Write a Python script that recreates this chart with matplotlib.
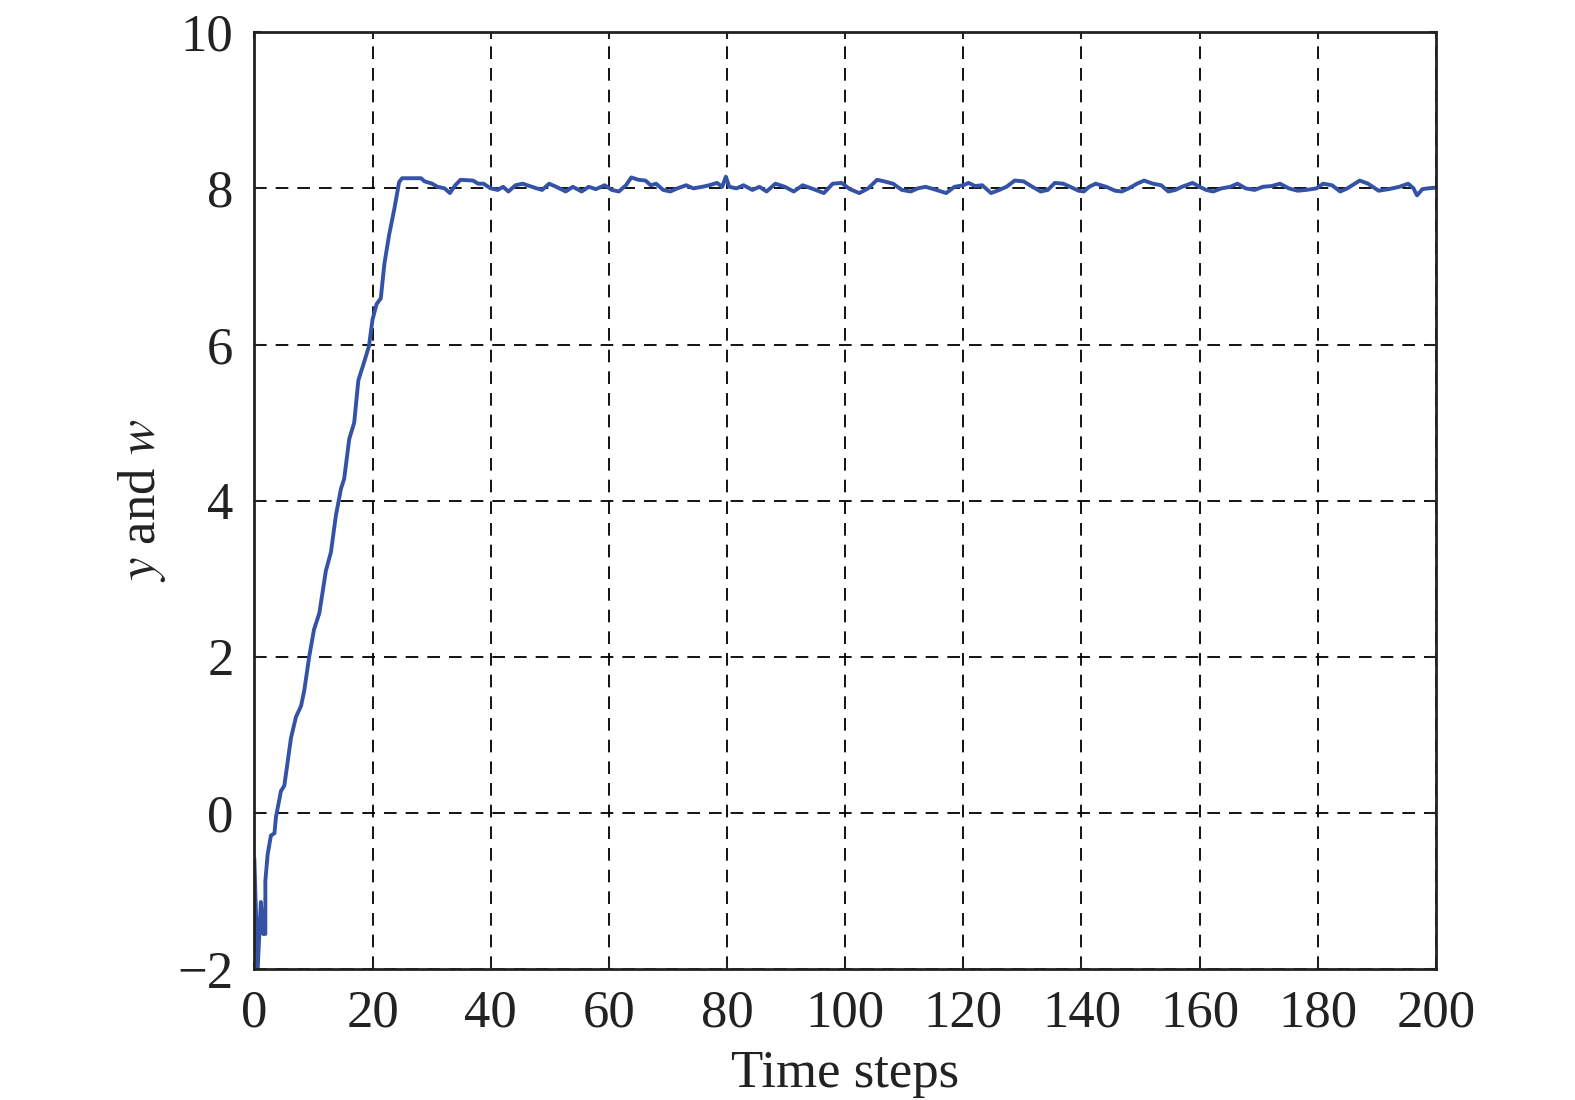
import matplotlib
matplotlib.use('Agg')
import matplotlib.pyplot as plt

# values (time step, y)
t = [0, 0.56, 1.1, 1.5, 1.86, 1.86, 2.25, 2.8, 3.4, 3.66, 4.5, 5.07, 6.2, 7.04, 7.9,
     8.45, 9.3, 10.1, 11.0, 12.1, 12.96, 13.8, 14.65, 15.2, 16.06, 16.9, 17.6, 18.6,
     19.4, 20.0, 20.7, 21.4, 22.0, 22.8, 23.7, 24.5, 25.0, 28.2, 28.8, 30.1, 31.0,
     32.2, 33.1, 34.0, 34.9, 37.0, 37.9, 38.8, 40.0, 41.2, 42.1, 43.0, 44.2, 45.4,
     46.6, 47.8, 48.7, 49.9, 51.1, 52.7, 53.9, 55.4, 56.6, 57.8, 59.3, 60.5, 61.7,
     62.9, 63.8, 65.0, 66.2, 67.1, 68.0, 69.2, 70.4, 71.6, 73.1, 74.3, 75.8, 77.0,
     78.3, 79.2, 79.8, 80.4, 81.6, 82.8, 84.3, 85.5, 86.7, 88.2, 89.8, 91.3, 92.8,
     94.3, 96.4, 97.9, 99.4, 100.8, 102.4, 103.9, 105.4, 106.6, 108.1, 109.6, 111.1,
     112.3, 113.6, 115.0, 117.1, 118.5, 120.0, 120.9, 122.0, 123.2, 124.7, 126.1,
     127.3, 128.7, 130.2, 131.7, 133.1, 134.3, 135.5, 136.9, 138.1, 139.5, 140.4,
     141.3, 142.4, 144.2, 145.7, 146.8, 148.0, 149.4, 150.6, 152.1, 153.5, 154.7,
     155.9, 157.0, 158.8, 160.0, 161.1, 162.3, 163.7, 165.2, 166.4, 167.8, 169.3,
     170.7, 172.2, 173.6, 175.1, 176.6, 178.0, 179.8, 180.9, 182.4, 183.8, 185.0,
     187.1, 188.5, 190.3, 192.0, 193.8, 195.3, 196.2, 196.8, 197.7, 198.6, 200.0]
y = [-0.6, -2.0, -1.14, -1.55, -1.55, -0.87, -0.53, -0.29, -0.26, -0.05, 0.28, 0.35,
     0.96, 1.23, 1.37, 1.57, 2.01, 2.35, 2.56, 3.1, 3.34, 3.81, 4.15, 4.28, 4.79, 5.0,
     5.54, 5.78, 5.98, 6.32, 6.52, 6.59, 7.03, 7.4, 7.74, 8.08, 8.13, 8.13, 8.09,
     8.06, 8.02, 8.0, 7.94, 8.04, 8.11, 8.1, 8.06, 8.06, 8.0, 7.98, 8.02, 7.96, 8.04,
     8.06, 8.03, 8.0, 7.98, 8.06, 8.02, 7.96, 8.02, 7.96, 8.02, 7.99, 8.04, 7.98,
     7.96, 8.04, 8.14, 8.11, 8.1, 8.04, 8.06, 7.98, 7.96, 8.0, 8.04, 8.0, 8.02, 8.04,
     8.07, 8.02, 8.15, 8.02, 8.0, 8.04, 7.98, 8.02, 7.96, 8.06, 8.02, 7.96, 8.04,
     8.0, 7.94, 8.06, 8.07, 7.99, 7.94, 8.0, 8.11, 8.09, 8.06, 7.98, 7.96, 8.0,
     8.02, 7.99, 7.94, 8.02, 8.04, 8.07, 8.03, 8.04, 7.94, 7.98, 8.02, 8.1, 8.09,
     8.02, 7.96, 7.98, 8.07, 8.06, 8.02, 7.97, 7.96, 8.02, 8.06, 8.02, 7.97, 7.96,
     8.0, 8.06, 8.1, 8.06, 8.04, 7.96, 7.98, 8.02, 8.07, 8.02, 7.98, 7.96, 8.0,
     8.02, 8.06, 8.0, 7.98, 8.02, 8.03, 8.06, 8.0, 7.97, 7.98, 8.0, 8.06, 8.04,
     7.96, 8.0, 8.1, 8.06, 7.97, 7.99, 8.02, 8.06, 8.0, 7.91, 7.99, 8.0, 8.01]

xticks = list(range(0, 201, 20))
yticks = [-2, 0, 2, 4, 6, 8, 10]

plt.rcParams['font.family'] = ['Liberation Serif', 'DejaVu Serif']
plt.rcParams['mathtext.fontset'] = 'stix'
plt.rcParams['axes.unicode_minus'] = True

fig = plt.figure(figsize=(15.75, 11), dpi=100)
ax = fig.add_axes([0.1615, 0.119, 0.7502, 0.8517])

ax.plot(t, y, color='#3452a6', linewidth=2.8)

ax.set_xlim(0, 200)
ax.set_ylim(-2, 10)
ax.set_xticks(xticks)
ax.set_yticks(yticks)
ax.set_yticklabels([str(v).replace('-', '\u2212') for v in yticks])
ax.grid(True, color='black', linestyle=(0, (7, 5)), linewidth=1.3)
ax.tick_params(direction='in', labelsize=38, length=5, width=1.5,
               top=True, right=True, color='#222222', labelcolor='#222222', pad=15)
for s in ax.spines.values():
    s.set_linewidth(2.0)
    s.set_color('#222222')

ax.set_xlabel('Time steps', fontsize=38, color='#222222', labelpad=9)
ax.set_ylabel('$y$ and $w$', fontsize=38, color='#222222', labelpad=7)

fig.savefig('out.png', dpi=100)
